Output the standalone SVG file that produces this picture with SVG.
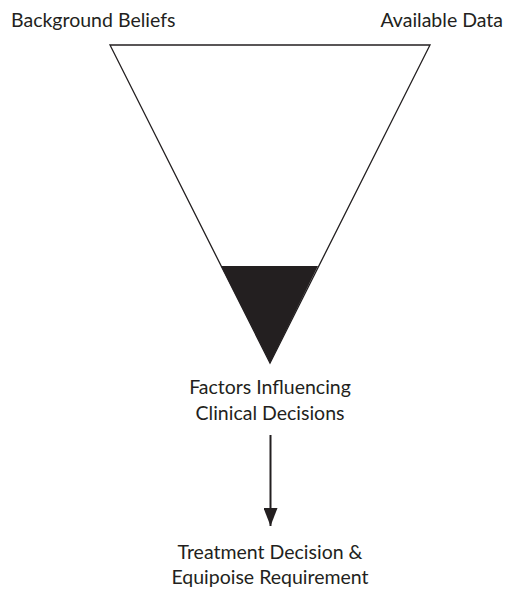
<svg xmlns="http://www.w3.org/2000/svg" width="508" height="589" viewBox="0 0 508 589">
<style>
text{font-family:Lato,"Open Sans","Liberation Sans",sans-serif;font-size:19.5px;fill:#231f20}
.c{text-anchor:middle}
</style>
<defs>
<marker id="ah" viewBox="0 0 18 14" refX="18" refY="7" markerWidth="18" markerHeight="14" markerUnits="userSpaceOnUse" orient="auto">
<path d="M0,0 L18,7 L0,14 Z" fill="#231f20"/>
</marker>
</defs>
<rect width="508" height="589" fill="#fff"/>
<g id="funnel">
<polygon points="110,45 430,45 270,363" fill="#fff" stroke="#231f20" stroke-width="1.3"/>
<polygon points="221,266 318,266 270,363" fill="#231f20"/>
</g>
<g id="background-beliefs"><text x="11" y="27">Background Beliefs</text></g>
<g id="available-data"><text x="503" y="27" text-anchor="end">Available Data</text></g>
<g id="factors"><text class="c" x="270" y="394">Factors Influencing</text><text class="c" x="270" y="420">Clinical Decisions</text></g>
<g id="treatment"><text class="c" x="270" y="559">Treatment Decision &amp;</text><text class="c" x="270" y="584">Equipoise Requirement</text></g>
<g id="connectors">
<line x1="270.5" y1="435" x2="270.5" y2="526" stroke="#231f20" stroke-width="2" marker-end="url(#ah)"/>
</g>
</svg>
